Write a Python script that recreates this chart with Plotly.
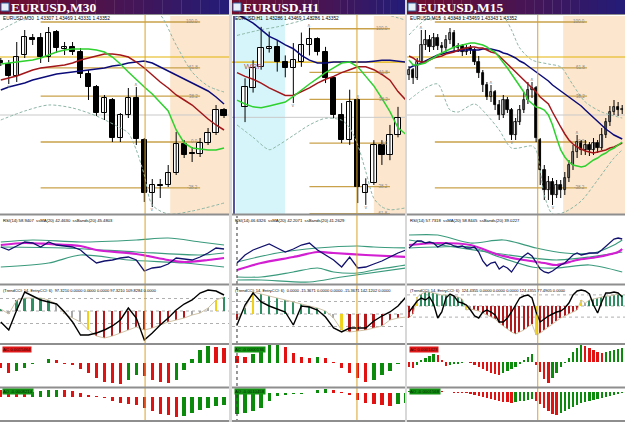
import plotly.graph_objects as go

# ======================= DATA =======================
FIB_LEVELS = [100.0, 61.8, 38.2, 0.0, -38.2, -61.8]
FIB_LABELS = ["100.0", "61.8", "38.2", "0.0", "-38.2", "-61.8"]
FIB_PRICE_0 = 1.4300
FIB_PRICE_100 = 1.4420
HLINE_GOLD = 1.4385
HLINE_BID = 1.4327

# ---------- Panel 1 : EURUSD,M30 ----------
P1_TITLE = "EURUSD,M30"
P1_HEADER = "EURUSD,M30  1.43307 1.43469 1.43331 1.43352"
P1_RSI_LABEL = "RSI(14) 58.9407  ssMA(20) 42.4630  ssBands(20) 45.4803"
P1_CCI_LABEL = "(TrendCCI: 14, EntryCCI: 6)  97.3210 0.0000 0.0000 0.0000 97.3210 109.8284 0.0000"
P1_AC_LABEL = "AC 0.0015464"
P1_AO_LABEL = "AO -0.0008214"
P1_X = list(range(0, 29))
P1_OPEN = [1.4381, 1.4378, 1.4366, 1.4387, 1.4404, 1.4404, 1.4385, 1.4410, 1.4393, 1.4395, 1.4390, 1.4368, 1.4355, 1.4329, 1.4342,
           1.4304, 1.4327, 1.4344, 1.4302, 1.4249, 1.4257, 1.4257, 1.4269, 1.4298, 1.4289, 1.4288, 1.4299, 1.4309, 1.4332]
P1_HIGH = [1.4384, 1.4382, 1.4400, 1.4412, 1.4408, 1.4409, 1.4415, 1.4412, 1.4400, 1.4400, 1.4394, 1.4372, 1.4357, 1.4347, 1.4344,
           1.4329, 1.4354, 1.4355, 1.4304, 1.4263, 1.4263, 1.4277, 1.4310, 1.4302, 1.4295, 1.4304, 1.4314, 1.4337, 1.4334]
P1_LOW = [1.4376, 1.4358, 1.4360, 1.4384, 1.4397, 1.4379, 1.4380, 1.4389, 1.4387, 1.4387, 1.4364, 1.4342, 1.4326, 1.4322, 1.4300,
          1.4300, 1.4324, 1.4297, 1.4240, 1.4235, 1.4244, 1.4255, 1.4267, 1.4284, 1.4280, 1.4285, 1.4297, 1.4307, 1.4324]
P1_CLOSE = [1.4379, 1.4366, 1.4385, 1.4405, 1.4402, 1.4385, 1.4409, 1.4394, 1.4395, 1.4390, 1.4368, 1.4355, 1.4329, 1.4344, 1.4304,
            1.4327, 1.4344, 1.4303, 1.4249, 1.4257, 1.4256, 1.4269, 1.4298, 1.4287, 1.4288, 1.4299, 1.4309, 1.4332, 1.4326]
P1_MA_FAST = [1.4378, 1.4379, 1.4380, 1.4381, 1.4382, 1.4384, 1.4387, 1.4390, 1.4392, 1.4393, 1.4393, 1.4393, 1.4392, 1.4390, 1.4385,
              1.4378, 1.4370, 1.4362, 1.4355, 1.4348, 1.4339, 1.4331, 1.4312, 1.4299, 1.4294, 1.4293, 1.4292, 1.4292, 1.4294]
P1_MA_MID = [1.4362, 1.4364, 1.4366, 1.4369, 1.4372, 1.4374, 1.4375, 1.4376, 1.4377, 1.4379, 1.4382, 1.4384, 1.4386, 1.4388, 1.4388,
             1.4387, 1.4385, 1.4380, 1.4374, 1.4367, 1.4360, 1.4354, 1.4347, 1.4342, 1.4337, 1.4330, 1.4323, 1.4317, 1.4312]
P1_MA_SLOW = [1.4352, 1.4355, 1.4357, 1.4359, 1.4362, 1.4364, 1.4366, 1.4368, 1.4369, 1.4370, 1.4371, 1.4372, 1.4373, 1.4374, 1.4376,
              1.4377, 1.4379, 1.4380, 1.4381, 1.4379, 1.4375, 1.4371, 1.4367, 1.4363, 1.4359, 1.4355, 1.4351, 1.4345, 1.4338]
P1_BB_UP_X = [0, 4, 8, 12, 16, 19, 20, 22, 24, 26, 28]
P1_BB_UP = [1.4412, 1.4427, 1.4430, 1.4427, 1.4429, 1.4429, 1.4427, 1.4397, 1.4370, 1.4356, 1.4350]
P1_BB_LO_X = [0, 3, 6, 9, 12, 15, 16, 17, 18, 19, 21, 24, 28]
P1_BB_LO = [1.4322, 1.4331, 1.4337, 1.4334, 1.4326, 1.4314, 1.4309, 1.4292, 1.4267, 1.4237, 1.4228, 1.4231, 1.4239]
P1_RSI = [52.1, 49.4, 53.0, 56.6, 55.7, 52.1, 56.6, 53.9, 53.0, 52.1, 49.4, 43.1, 37.7, 39.5, 40.4,
          42.2, 43.1, 40.4, 30.5, 33.2, 34.1, 36.8, 42.2, 41.3, 40.4, 43.1, 46.7, 51.2, 50.3]
P1_RSI_MA_X = [0, 3, 6, 10, 12, 17, 21, 23, 26, 28]
P1_RSI_MA = [53.9, 55.7, 54.8, 53.0, 49.4, 45.8, 40.4, 38.6, 40.4, 42.2]
P1_RSI_BU_X = [0, 4, 10, 17, 21, 25, 28]
P1_RSI_BU = [56.6, 58.4, 56.6, 58.4, 60.2, 56.6, 53.9]
P1_RSI_BM_X = [0, 8, 17, 25, 28]
P1_RSI_BM = [52.1, 51.2, 47.6, 44.9, 46.7]
P1_RSI_BL_X = [0, 6, 10, 16, 23, 28]
P1_RSI_BL = [34.1, 37.7, 44.9, 40.4, 37.7, 34.1]
P1_CCI_TREND = [16, -24, 88, 104, 104, 104, 88, 56, -24, -56, -88, -152, -200, -216, -200,
                -176, -152, -128, -152, -136, -112, -88, -72, -56, -32, -16, 24, 88, 112]
P1_CCI_ENTRY = [-88, -152, 8, 152, 120, 88, 72, 56, -8, -88, -192, -192, -176, -152, -120,
                -72, 24, -56, -232, -176, -112, -56, 8, 56, 88, 144, 168, 160, 128]
P1_CCI_STATE = ["U", "N", "U", "U", "U", "U", "U", "N", "N", "N", "N", "E", "D", "D", "D",
                "D", "D", "D", "D", "D", "D", "D", "D", "D", "N", "N", "N", "E", "U"]
P1_AC = [-0.0005, -0.0010, -0.0008, -0.0005, -0.0001, 0.0000, 0.0004, 0.0003, -0.0001, -0.0002, -0.0006, -0.0010, -0.0015, -0.0019, -0.0020,
         -0.0021, -0.0017, -0.0012, -0.0013, -0.0017, -0.0019, -0.0020, -0.0017, -0.0007, 0.0004, 0.0013, 0.0017, 0.0016, 0.0015]
P1_AO = [0.0007, 0.0006, 0.0005, 0.0004, 0.0005, 0.0006, 0.0007, 0.00075, 0.0007, 0.0006, 0.0004, 0.0002, 0.0001, -0.0001, -0.0004,
         -0.0006, -0.0007, -0.0008, -0.0011, -0.0014, -0.0017, -0.0018, -0.0020, -0.0019, -0.0016, -0.0013, -0.0011, -0.0009, -0.0008]
P1_FR_UP = [17]
P1_FR_DN = [1, 19]
P1_FIB_SPAN = [5, 25]
P1_CROSS = 18.1
P1_SESSION_START = 21.25

# ---------- Panel 2 : EURUSD,H1 ----------
P2_TITLE = "EURUSD,H1"
P2_HEADER = "EURUSD,H1  1.43286 1.43469 1.43286 1.43352"
P2_RSI_LABEL = "RSI(14) 46.6326  ssMA(20) 42.2071  ssBands(20) 41.2629"
P2_CCI_LABEL = "(TrendCCI: 14, EntryCCI: 6)  0.0000 -15.3671 0.0000 0.0000 -15.3671 142.1202 0.0000"
P2_AC_LABEL = "AC -0.0000136"
P2_AO_LABEL = "AO -0.0010458"
P2_BARS = list(range(1, 21))
P2_X = list(range(0, 22))
P2_OPEN = [1.4338, 1.4358, 1.4380, 1.4399, 1.4401, 1.4385, 1.4379, 1.4385, 1.4403, 1.4409,
           1.4396, 1.4368, 1.4329, 1.4303, 1.4345, 1.4248, 1.4258, 1.4298, 1.4287, 1.4308]
P2_HIGH = [1.4368, 1.4387, 1.4422, 1.4417, 1.4408, 1.4392, 1.4405, 1.4416, 1.4421, 1.4411,
           1.4401, 1.4370, 1.4342, 1.4356, 1.4347, 1.4263, 1.4303, 1.4303, 1.4319, 1.4338]
P2_LOW = [1.4322, 1.4353, 1.4377, 1.4395, 1.4375, 1.4369, 1.4342, 1.4380, 1.4392, 1.4392,
          1.4363, 1.4326, 1.4300, 1.4298, 1.4237, 1.4235, 1.4256, 1.4277, 1.4282, 1.4306]
P2_CLOSE = [1.4359, 1.4379, 1.4400, 1.4401, 1.4385, 1.4379, 1.4387, 1.4403, 1.4409, 1.4396,
            1.4368, 1.4329, 1.4303, 1.4343, 1.4254, 1.4256, 1.4298, 1.4287, 1.4308, 1.4326]
P2_MA_FAST = [1.4345, 1.4341, 1.4338, 1.4337, 1.4339, 1.4341, 1.4343, 1.4349, 1.4356, 1.4362, 1.4368,
              1.4374, 1.4379, 1.4384, 1.4385, 1.4380, 1.4370, 1.4360, 1.4347, 1.4333, 1.4316, 1.4309]
P2_MA_MID = [1.4374, 1.4370, 1.4367, 1.4363, 1.4358, 1.4354, 1.4350, 1.4350, 1.4354, 1.4358, 1.4363,
             1.4367, 1.4370, 1.4374, 1.4377, 1.4380, 1.4380, 1.4377, 1.4372, 1.4366, 1.4354, 1.4345]
P2_MA_SLOW = [1.4435, 1.4431, 1.4426, 1.4419, 1.4412, 1.4408, 1.4403, 1.4399, 1.4392, 1.4387, 1.4384,
              1.4384, 1.4385, 1.4385, 1.4385, 1.4385, 1.4385, 1.4386, 1.4387, 1.4387, 1.4386, 1.4385]
P2_BB_UP_X = [0, 3, 5, 9, 12, 15, 17, 19, 21]
P2_BB_UP = [1.4413, 1.4419, 1.4422, 1.4431, 1.4440, 1.4445, 1.4440, 1.4434, 1.4429]
P2_BB_LO_X = [0, 2, 4, 5, 7, 9, 11, 13, 14, 15, 16, 17, 18, 19, 21]
P2_BB_LO = [1.4319, 1.4306, 1.4293, 1.4297, 1.4308, 1.4319, 1.4326, 1.4324, 1.4316, 1.4298, 1.4270, 1.4242, 1.4233, 1.4230, 1.4232]
P2_RSI = [37.7, 44.9, 49.4, 52.1, 54.8, 51.2, 47.6, 50.3, 53.9, 55.7, 49.4,
          44.9, 40.4, 34.1, 43.1, 33.2, 34.1, 36.8, 39.5, 43.1, 46.7, 49.4]
P2_RSI_MA_X = [0, 3, 7, 10, 12, 16, 21]
P2_RSI_MA = [31.4, 37.7, 43.1, 47.6, 46.7, 44.9, 43.1]
P2_RSI_BU_X = [0, 5, 10, 15, 17, 21]
P2_RSI_BU = [38.6, 46.7, 51.2, 53.0, 52.1, 51.2]
P2_RSI_BM_X = [0, 3, 7, 10, 12, 15, 17, 21]
P2_RSI_BM = [25.1, 25.1, 29.6, 33.2, 29.6, 28.7, 31.4, 35.9]
P2_RSI_BL_X = [0, 3, 9, 13, 21]
P2_RSI_BL = [22.4, 22.4, 20.6, 25.1, 33.2]
P2_CCI_TREND = [-48, 48, 176, 160, 144, 128, 112, 96, 80, 64, 48,
                24, -32, -128, -144, -136, -128, -112, -96, -48, -32, -24]
P2_CCI_ENTRY = [-88, 72, 168, 96, 64, 40, 16, -88, 64, 56, 32,
                -24, -112, -144, -112, -112, -112, -56, -16, 16, 64, 136]
P2_CCI_STATE = ["D", "U", "E", "U", "U", "U", "U", "U", "U", "U", "U",
                "U", "N", "E", "D", "D", "D", "D", "D", "D", "D", "D"]
P2_AC = [0.0007, 0.0006, 0.0009, 0.0013, 0.0018, 0.0019, 0.0016, 0.0010, 0.0006, 0.0005, 0.0006,
         0.0005, 0.0001, -0.0005, -0.0010, -0.0015, -0.0019, -0.0017, -0.0012, -0.0008, -0.0001, 0.0000]
P2_AO = [-0.0021, -0.0020, -0.0018, -0.0015, -0.0008, -0.0003, -0.0002, -0.0001, -0.00005, 0.0000, 0.0003,
         0.0004, 0.0003, 0.0001, -0.0002, -0.0007, -0.0010, -0.0011, -0.0012, -0.00125, -0.0011, -0.0010]
P2_FR_UP = [9, 15]
P2_FR_DN = [7, 16]
P2_FIB_SPAN = [9, 19]
P2_CROSS = 14.9
P2_SESSION_START = 17.0
P2_ZONE = [-0.12, 5.96]
P2_WRP = (2.0, 1.4380)

# ---------- Panel 3 : EURUSD,M15 ----------
P3_TITLE = "EURUSD,M15"
P3_HEADER = "EURUSD,M15  1.43343 1.43469 1.43343 1.43352"
P3_RSI_LABEL = "RSI(14) 57.7318  ssMA(20) 58.8445  ssBands(20) 39.0227"
P3_CCI_LABEL = "(TrendCCI: 14, EntryCCI: 6)  124.4355 0.0000 0.0000 0.0000 124.4355 77.4905 0.0000"
P3_AC_LABEL = "AC 0.0001423"
P3_AO_LABEL = "AO -0.0001568"
P3_X = list(range(0, 53))
P3_OPEN = [1.4367, 1.4372, 1.4364, 1.4380, 1.4397, 1.4402, 1.4395, 1.4404, 1.4396, 1.4394,
           1.4402, 1.4409, 1.4394, 1.4396, 1.4390, 1.4394, 1.4392, 1.4380, 1.4369, 1.4357,
           1.4345, 1.4350, 1.4337, 1.4327, 1.4342, 1.4332, 1.4307, 1.4320, 1.4332, 1.4342,
           1.4352, 1.4354, 1.4302, 1.4272, 1.4252, 1.4260, 1.4247, 1.4257, 1.4252, 1.4264,
           1.4277, 1.4290, 1.4300, 1.4292, 1.4297, 1.4292, 1.4299, 1.4294, 1.4307, 1.4320,
           1.4330, 1.4335, 1.4332]
P3_HIGH = [1.4376, 1.4374, 1.4384, 1.4412, 1.4412, 1.4407, 1.4409, 1.4408, 1.4400, 1.4407,
           1.4414, 1.4412, 1.4399, 1.4398, 1.4397, 1.4397, 1.4394, 1.4386, 1.4372, 1.4360,
           1.4357, 1.4352, 1.4342, 1.4347, 1.4345, 1.4334, 1.4324, 1.4337, 1.4350, 1.4360,
           1.4360, 1.4356, 1.4304, 1.4277, 1.4266, 1.4264, 1.4262, 1.4262, 1.4270, 1.4282,
           1.4297, 1.4307, 1.4302, 1.4302, 1.4300, 1.4304, 1.4302, 1.4314, 1.4324, 1.4336,
           1.4342, 1.4340, 1.4337]
P3_LOW = [1.4362, 1.4358, 1.4362, 1.4378, 1.4392, 1.4390, 1.4392, 1.4392, 1.4387, 1.4390,
          1.4398, 1.4390, 1.4390, 1.4386, 1.4387, 1.4388, 1.4377, 1.4364, 1.4350, 1.4342,
          1.4340, 1.4332, 1.4322, 1.4324, 1.4329, 1.4302, 1.4302, 1.4317, 1.4329, 1.4338,
          1.4344, 1.4300, 1.4257, 1.4242, 1.4242, 1.4237, 1.4244, 1.4244, 1.4247, 1.4260,
          1.4272, 1.4284, 1.4287, 1.4287, 1.4286, 1.4287, 1.4289, 1.4292, 1.4304, 1.4316,
          1.4327, 1.4326, 1.4328]
P3_CLOSE = [1.4372, 1.4364, 1.4380, 1.4397, 1.4402, 1.4395, 1.4404, 1.4396, 1.4394, 1.4402,
            1.4409, 1.4394, 1.4396, 1.4390, 1.4394, 1.4392, 1.4380, 1.4369, 1.4357, 1.4345,
            1.4350, 1.4337, 1.4327, 1.4342, 1.4332, 1.4307, 1.4320, 1.4332, 1.4342, 1.4352,
            1.4354, 1.4304, 1.4272, 1.4252, 1.4260, 1.4247, 1.4257, 1.4252, 1.4264, 1.4277,
            1.4290, 1.4300, 1.4292, 1.4297, 1.4292, 1.4299, 1.4294, 1.4307, 1.4320, 1.4330,
            1.4335, 1.4332, 1.4333]
P3_MA_FAST = [1.4382, 1.4377, 1.4377, 1.4378, 1.4379, 1.4382, 1.4384, 1.4387, 1.4389, 1.4391,
              1.4393, 1.4395, 1.4396, 1.4397, 1.4398, 1.4399, 1.4399, 1.4398, 1.4397, 1.4395,
              1.4392, 1.4390, 1.4385, 1.4379, 1.4374, 1.4368, 1.4362, 1.4357, 1.4350, 1.4342,
              1.4338, 1.4335, 1.4334, 1.4332, 1.4327, 1.4317, 1.4304, 1.4292, 1.4285, 1.4280,
              1.4277, 1.4276, 1.4275, 1.4276, 1.4279, 1.4282, 1.4284, 1.4287, 1.4289, 1.4292,
              1.4294, 1.4297, 1.4300]
P3_MA_MID = [1.4386, 1.4384, 1.4381, 1.4380, 1.4380, 1.4382, 1.4384, 1.4385, 1.4386, 1.4388,
             1.4389, 1.4390, 1.4392, 1.4393, 1.4394, 1.4395, 1.4395, 1.4394, 1.4394, 1.4392,
             1.4390, 1.4389, 1.4386, 1.4382, 1.4378, 1.4375, 1.4370, 1.4366, 1.4362, 1.4358,
             1.4354, 1.4350, 1.4345, 1.4341, 1.4338, 1.4330, 1.4322, 1.4315, 1.4308, 1.4302,
             1.4298, 1.4295, 1.4293, 1.4291, 1.4290, 1.4289, 1.4290, 1.4291, 1.4292, 1.4294,
             1.4295, 1.4297, 1.4299]
P3_MA_SLOW = [1.4374, 1.4376, 1.4377, 1.4379, 1.4381, 1.4383, 1.4385, 1.4387, 1.4388, 1.4389,
              1.4390, 1.4391, 1.4391, 1.4392, 1.4392, 1.4392, 1.4392, 1.4392, 1.4393, 1.4393,
              1.4393, 1.4392, 1.4391, 1.4389, 1.4388, 1.4386, 1.4384, 1.4381, 1.4379, 1.4376,
              1.4373, 1.4370, 1.4367, 1.4364, 1.4361, 1.4357, 1.4354, 1.4351, 1.4348, 1.4345,
              1.4342, 1.4339, 1.4336, 1.4332, 1.4328, 1.4324, 1.4320, 1.4316, 1.4313, 1.4310,
              1.4307, 1.4305, 1.4303]
P3_BB_UP_X = [0, 4, 8, 13, 16, 23, 25, 27, 30, 34, 37, 40, 43, 47, 52]
P3_BB_UP = [1.4407, 1.4422, 1.4424, 1.4424, 1.4426, 1.4425, 1.4412, 1.4394, 1.4382, 1.4378, 1.4375, 1.4357, 1.4340, 1.4330, 1.4324]
P3_BB_LO_X = [0, 4, 7, 10, 12, 16, 19, 22, 25, 30, 31, 32, 33, 35, 38, 42, 46, 50, 52]
P3_BB_LO = [1.4342, 1.4354, 1.4358, 1.4332, 1.4330, 1.4338, 1.4327, 1.4312, 1.4294, 1.4296, 1.4292, 1.4272, 1.4247,
            1.4228, 1.4230, 1.4241, 1.4262, 1.4284, 1.4292]
P3_RSI = [51.2, 54.8, 57.5, 57.5, 55.7, 56.6, 55.7, 52.1, 53.9, 55.7,
          54.8, 53.0, 52.1, 53.0, 51.2, 51.2, 52.1, 47.6, 39.5, 35.0,
          37.7, 38.6, 32.3, 35.0, 33.2, 29.6, 35.0, 40.4, 44.0, 46.7,
          44.0, 38.6, 32.3, 29.6, 28.7, 30.5, 33.2, 35.9, 37.7, 41.3,
          44.9, 46.7, 44.9, 45.8, 46.7, 46.7, 46.7, 49.4, 53.0, 56.6,
          59.3, 60.2, 59.3]
P3_RSI_MA_X = [0, 7, 15, 22, 28, 33, 36, 41, 46, 51, 52]
P3_RSI_MA = [53.9, 55.7, 53.9, 44.9, 40.4, 37.7, 35.9, 40.4, 43.1, 47.6, 50.3]
P3_RSI_BU_X = [0, 7, 15, 23, 31, 38, 45, 50, 52]
P3_RSI_BU = [62.9, 62.9, 55.7, 58.4, 51.2, 46.7, 46.7, 53.9, 58.4]
P3_RSI_BM_X = [0, 11, 19, 28, 36, 44, 52]
P3_RSI_BM = [58.4, 52.1, 47.6, 43.1, 40.4, 43.1, 47.6]
P3_RSI_BL_X = [0, 7, 15, 22, 30, 36, 44, 52]
P3_RSI_BL = [51.2, 52.1, 52.1, 43.1, 34.1, 33.2, 35.9, 29.6]
P3_CCI_TREND = [-108, -72, 81, 108, 126, 126, 117, 108, 99, 99,
                99, 90, 81, 63, -36, -27, -36, -45, -63, -81,
                -99, -117, -153, -180, -207, -234, -252, -234, -216, -189,
                -162, -261, -243, -216, -189, -162, -135, -108, -90, -72,
                -54, -36, 54, 27, 54, 63, 72, 81, 90, 90,
                99, 108, 99]
P3_CCI_ENTRY = [-54, 0, 45, 72, 54, 81, 18, -108, -54, 72,
                108, 90, 36, 27, 9, -36, -90, -108, -54, -36,
                -54, -81, -144, -144, -108, -54, 9, 72, 90, 99,
                72, -54, -144, -117, -90, -72, -54, -45, -18, 27,
                99, 135, 144, 135, 108, 9, -63, 36, 117, 117,
                126, 117, 81]
P3_CCI_STATE = (["D", "D", "E"] + ["U"] * 11 + ["E", "N"] + ["D"] * 15 + ["E"] + ["D"] * 10
                + ["E", "N"] + ["U"] * 9)
P3_AC = [-0.0005, -0.0006, -0.0003, 0.0002, 0.0004, 0.0006, 0.0008, 0.0007, 0.0002, -0.0004,
         -0.0003, -0.0002, -0.0002, -0.0001, 0.0000, -0.0001, -0.0003, -0.0005, -0.0007, -0.0009,
         -0.0011, -0.0012, -0.0013, -0.0011, -0.0009, -0.0007, -0.0005, -0.0002, 0.0002, 0.0005,
         0.0008, -0.0003, -0.0010, -0.0017, -0.0021, -0.0016, -0.0011, -0.0005, -0.0001, 0.0004,
         0.0010, 0.0014, 0.0017, 0.0016, 0.0014, 0.0012, 0.0010, 0.0009, 0.0010, 0.0011,
         0.0012, 0.0013, 0.0014]
P3_AO = [0.0001, 0.0001, 0.0001, 0.0002, 0.0002, 0.0002, 0.0002, 0.0001, 0.0001, 0.0000,
         0.0000, -0.0001, -0.0001, -0.0001, -0.0001, -0.0002, -0.0003, -0.0004, -0.0005, -0.0006,
         -0.0007, -0.0008, -0.0009, -0.0010, -0.0010, -0.0011, -0.0010, -0.0009, -0.0009, -0.0008,
         -0.0007, -0.0009, -0.0012, -0.0016, -0.0019, -0.0022, -0.0023, -0.0021, -0.0019, -0.0017,
         -0.0015, -0.0013, -0.0011, -0.0010, -0.0009, -0.0008, -0.0007, -0.0006, -0.0005, -0.0004,
         -0.0003, -0.0002, -0.0001]
P3_FR_UP = [3, 20, 30, 41]
P3_FR_DN = [25, 35]
P3_FIB_SPAN = [6.3, 43.4]
P3_CROSS = 31.4
P3_SESSION_START = 37.6

# label box colours as shown (AC / AO)
LABEL_BG = [("#e01a1a", "#129012"), ("#129012", "#129012"), ("#e01a1a", "#129012")]

# ======================= BUILD =======================
PANELS = [
    dict(title=P1_TITLE, header=P1_HEADER, rsi_label=P1_RSI_LABEL, cci_label=P1_CCI_LABEL,
         ac_label=P1_AC_LABEL, ao_label=P1_AO_LABEL, bars=P1_X, x=P1_X,
         o=P1_OPEN, h=P1_HIGH, l=P1_LOW, c=P1_CLOSE, fast=P1_MA_FAST, mid=P1_MA_MID, slow=P1_MA_SLOW,
         bbux=P1_BB_UP_X, bbu=P1_BB_UP, bblx=P1_BB_LO_X, bbl=P1_BB_LO,
         rsi=P1_RSI, rmax=P1_RSI_MA_X, rma=P1_RSI_MA, rbux=P1_RSI_BU_X, rbu=P1_RSI_BU,
         rbmx=P1_RSI_BM_X, rbm=P1_RSI_BM, rblx=P1_RSI_BL_X, rbl=P1_RSI_BL,
         ct=P1_CCI_TREND, ce=P1_CCI_ENTRY, cs=P1_CCI_STATE, ac=P1_AC, ao=P1_AO,
         frup=P1_FR_UP, frdn=P1_FR_DN, fib=P1_FIB_SPAN, cross=P1_CROSS, sess=P1_SESSION_START,
         px0=0, px1=229, xr=[-0.1, 28.625], main=[1.4228, 1.4426], cci=[-256, 192],
         acr=[-0.0023, 0.0018], aor=[-0.0023, 0.0008], bw=0.42, cw=0.22, kw=0.66, cdw=1),
    dict(title=P2_TITLE, header=P2_HEADER, rsi_label=P2_RSI_LABEL, cci_label=P2_CCI_LABEL,
         ac_label=P2_AC_LABEL, ao_label=P2_AO_LABEL, bars=P2_BARS, x=P2_X,
         o=P2_OPEN, h=P2_HIGH, l=P2_LOW, c=P2_CLOSE, fast=P2_MA_FAST, mid=P2_MA_MID, slow=P2_MA_SLOW,
         bbux=P2_BB_UP_X, bbu=P2_BB_UP, bblx=P2_BB_LO_X, bbl=P2_BB_LO,
         rsi=P2_RSI, rmax=P2_RSI_MA_X, rma=P2_RSI_MA, rbux=P2_RSI_BU_X, rbu=P2_RSI_BU,
         rbmx=P2_RSI_BM_X, rbm=P2_RSI_BM, rblx=P2_RSI_BL_X, rbl=P2_RSI_BL,
         ct=P2_CCI_TREND, ce=P2_CCI_ENTRY, cs=P2_CCI_STATE, ac=P2_AC, ao=P2_AO,
         frup=P2_FR_UP, frdn=P2_FR_DN, fib=P2_FIB_SPAN, cross=P2_CROSS, sess=P2_SESSION_START,
         px0=232, px1=405, xr=[-0.62, 20.87], main=[1.42255, 1.44334], cci=[-232, 216],
         acr=[-0.0023, 0.0018], aor=[-0.0027, 0.0004], bw=0.42, cw=0.22, kw=0.66, cdw=1),
    dict(title=P3_TITLE, header=P3_HEADER, rsi_label=P3_RSI_LABEL, cci_label=P3_CCI_LABEL,
         ac_label=P3_AC_LABEL, ao_label=P3_AO_LABEL, bars=P3_X, x=P3_X,
         o=P3_OPEN, h=P3_HIGH, l=P3_LOW, c=P3_CLOSE, fast=P3_MA_FAST, mid=P3_MA_MID, slow=P3_MA_SLOW,
         bbux=P3_BB_UP_X, bbu=P3_BB_UP, bblx=P3_BB_LO_X, bbl=P3_BB_LO,
         rsi=P3_RSI, rmax=P3_RSI_MA_X, rma=P3_RSI_MA, rbux=P3_RSI_BU_X, rbu=P3_RSI_BU,
         rbmx=P3_RSI_BM_X, rbm=P3_RSI_BM, rblx=P3_RSI_BL_X, rbl=P3_RSI_BL,
         ct=P3_CCI_TREND, ce=P3_CCI_ENTRY, cs=P3_CCI_STATE, ac=P3_AC, ao=P3_AO,
         frup=P3_FR_UP, frdn=P3_FR_DN, fib=P3_FIB_SPAN, cross=P3_CROSS, sess=P3_SESSION_START,
         px0=407, px1=625, xr=[-0.49, 52.68], main=[1.4228, 1.4426], cci=[-333, 171],
         acr=[-0.0024, 0.0017], aor=[-0.0028, 0.0003], bw=0.55, cw=0.35, kw=0.62, cdw=0.8),
]

W, H = 625, 422
SUB_PIX = [(16, 214), (216, 283), (287, 343), (345, 386), (389, 420)]
SEPARATORS = [14.5, 214.5, 284.5, 344, 387.5, 421]

C_FAST, C_MID, C_SLOW = "#2ed12e", "#a3161a", "#0b0b7a"
C_BB = "#8db6a6"
C_FIB = "#c9a14a"
C_CROSS = "#d9a22a"
STATE_COL = {"U": "#2f8f62", "D": "#b3181c", "E": "#f0d21c", "N": "#a9a9a9"}
ACG, ACR = "#0b8a0b", "#e01212"
FONT = "Liberation Sans"


def xname(n):
    return "x" if n == 1 else f"x{n}"


def yname(n):
    return "y" if n == 1 else f"y{n}"


def osc_colors(vals):
    cols = []
    for i, v in enumerate(vals):
        if i == 0:
            cols.append(None)
        elif v > vals[i - 1]:
            cols.append(ACG)
        elif v < vals[i - 1]:
            cols.append(ACR)
        else:
            cols.append(cols[-1] or ACG)
    cols[0] = cols[1] if len(cols) > 1 else ACG
    return cols


fig = go.Figure()
layout = dict(width=W, height=H, margin=dict(l=0, r=0, t=0, b=0), paper_bgcolor="white",
              plot_bgcolor="rgba(0,0,0,0)", showlegend=False, bargap=0, barmode="overlay")
shapes, annots = [], []


def add(trace, n):
    trace.update(xaxis=xname(n), yaxis=yname(n), hoverinfo="skip")
    fig.add_trace(trace)


def ptext(x, y, text, size, color="black", family=FONT, bold=False, bg=None):
    annots.append(dict(xref="paper", yref="paper", x=x / W, y=1 - y / H, text=("<b>%s</b>" % text) if bold else text,
                       showarrow=False, xanchor="left", yanchor="middle",
                       font=dict(size=size, color=color, family=family),
                       bgcolor=bg, borderpad=0))


def lines(x, y, n, color, width, dash=None, shape="linear"):
    add(go.Scatter(x=x, y=y, mode="lines", line=dict(color=color, width=width, dash=dash, shape=shape,
                                                    smoothing=0.8 if shape == "spline" else None)), n)


for p, P in enumerate(PANELS):
    base = p * 5
    ranges = [P["main"], [19.7, 80.0], P["cci"], P["acr"], P["aor"]]
    for s, (t, b) in enumerate(SUB_PIX):
        n = base + s + 1
        xk = "xaxis" if n == 1 else f"xaxis{n}"
        yk = "yaxis" if n == 1 else f"yaxis{n}"
        layout[xk] = dict(domain=[P["px0"] / W, P["px1"] / W], range=P["xr"], visible=False,
                          fixedrange=True, anchor=yname(n))
        layout[yk] = dict(domain=[1 - b / H, 1 - t / H], range=ranges[s], visible=False,
                          fixedrange=True, anchor=xname(n))
    nm, nr, nc, na, no = base + 1, base + 2, base + 3, base + 4, base + 5

    # --- background zones in main chart ---
    shapes.append(dict(type="rect", xref=xname(nm), yref=f"{yname(nm)} domain", x0=P["sess"], x1=P["xr"][1] + 1,
                       y0=0, y1=1, fillcolor="#fce6cd", line=dict(width=0), layer="below"))
    if p == 1:
        shapes.append(dict(type="rect", xref=xname(nm), yref=f"{yname(nm)} domain", x0=P2_ZONE[0], x1=P2_ZONE[1],
                           y0=0, y1=1, fillcolor="#d5f5fa", line=dict(width=0), layer="below"))
    shapes.append(dict(type="line", xref=f"{xname(nm)} domain", yref=yname(nm), x0=0, x1=1, y0=HLINE_BID, y1=HLINE_BID,
                       line=dict(color="#c9c9c9", width=1), layer="below"))
    shapes.append(dict(type="line", xref=f"{xname(nm)} domain", yref=yname(nm), x0=0, x1=1, y0=HLINE_GOLD, y1=HLINE_GOLD,
                       line=dict(color="#e3b30a", width=1.2), layer="below"))
    for lv, lab in zip(FIB_LEVELS, FIB_LABELS):
        price = FIB_PRICE_0 + (FIB_PRICE_100 - FIB_PRICE_0) * lv / 100.0
        shapes.append(dict(type="line", xref=xname(nm), yref=yname(nm), x0=P["fib"][0], x1=P["fib"][1],
                           y0=price, y1=price, line=dict(color=C_FIB, width=1.3), layer="below"))
        annots.append(dict(xref=xname(nm), yref=yname(nm), x=P["fib"][1], y=price, text=lab, showarrow=False,
                           xanchor="right", yanchor="middle", font=dict(size=4.5, color="#8a8a8a", family=FONT)))

    # --- candles: wicks + bodies ---
    wx, wy = [], []
    for xi, hi, lo in zip(P["bars"], P["h"], P["l"]):
        wx += [xi, xi, None]
        wy += [lo, hi, None]
    add(go.Scatter(x=wx, y=wy, mode="lines", line=dict(color="black", width=1)), nm)
    body_base = [min(o, c) for o, c in zip(P["o"], P["c"])]
    body_h = [max(abs(c - o), 0.00004) for o, c in zip(P["o"], P["c"])]
    body_col = ["white" if c >= o else "black" for o, c in zip(P["o"], P["c"])]
    add(go.Bar(x=P["bars"], y=body_h, base=body_base, width=P["kw"],
               marker=dict(color=body_col, line=dict(color="black", width=P["cdw"]))), nm)
    lines(P["bbux"], P["bbu"], nm, C_BB, 1, dash="3px,2px", shape="spline")
    lines(P["bblx"], P["bbl"], nm, C_BB, 1, dash="3px,2px", shape="spline")
    lines(P["x"], P["slow"], nm, C_SLOW, 1.5)
    lines(P["x"], P["mid"], nm, C_MID, 1.5)
    lines(P["x"], P["fast"], nm, C_FAST, 1.5)
    add(go.Scatter(x=P["frup"], y=[P["h"][P["bars"].index(i)] + 0.0002 for i in P["frup"]], mode="text",
                   text=["∧"] * len(P["frup"]), textposition="middle center", textfont=dict(size=5, color="#8c8c8c")), nm)
    add(go.Scatter(x=P["frdn"], y=[P["l"][P["bars"].index(i)] - 0.0003 for i in P["frdn"]], mode="text",
                   text=["∨"] * len(P["frdn"]), textposition="middle center", textfont=dict(size=5, color="#8c8c8c")), nm)
    if p == 1:
        annots.append(dict(xref=xname(nm), yref=yname(nm), x=P2_WRP[0], y=P2_WRP[1], text="WRP", showarrow=False,
                           font=dict(size=8, color="#b46262", family=FONT)))
        shapes.append(dict(type="line", xref="paper", yref="paper", x0=234 / W, x1=234 / W, y0=1 - 214 / H, y1=1 - 16 / H,
                           line=dict(color="#1a1a80", width=1.5)))

    # --- RSI ---
    lines(P["rbux"], P["rbu"], nr, "#3a9a7c", 1.2, shape="spline")
    lines(P["rbmx"], P["rbm"], nr, "#3a9a7c", 1.2, shape="spline")
    lines(P["rblx"], P["rbl"], nr, "#3a9a7c", 1.2, shape="spline")
    lines(P["rmax"], P["rma"], nr, "#d21fd2", 2.2, shape="spline")
    lines(P["x"], P["rsi"], nr, "#12126e", 1.3)

    # --- TrendCCI ---
    for lv in (100, 0, -100):
        shapes.append(dict(type="line", xref=f"{xname(nc)} domain", yref=yname(nc), x0=0, x1=1, y0=lv, y1=lv,
                           line=dict(color="#b0b0b0", width=1, dash="dot"), layer="below"))
    add(go.Bar(x=P["x"], y=P["ct"], width=P["cw"], marker=dict(color=[STATE_COL[s] for s in P["cs"]], line=dict(width=0))), nc)
    lines(P["x"], P["ct"], nc, "#cfc2a6", 1)
    lines(P["x"], P["ce"], nc, "black", 1.4)

    # --- AC / AO ---
    add(go.Bar(x=P["x"], y=P["ac"], width=P["bw"], marker=dict(color=osc_colors(P["ac"]), line=dict(width=0))), na)
    add(go.Bar(x=P["x"], y=P["ao"], width=P["bw"], marker=dict(color=osc_colors(P["ao"]), line=dict(width=0))), no)

    shapes.append(dict(type="line", xref=xname(nm), yref="paper", x0=P["cross"], x1=P["cross"], y0=0, y1=1 - 15 / H,
                       line=dict(color=C_CROSS, width=1)))
    if p == 1:
        shapes.append(dict(type="line", xref=xname(nm), yref="paper", x0=0, x1=0, y0=0, y1=1 - 216 / H,
                           line=dict(color="#333333", width=1, dash="dot")))

    # --- frame: title bar gradient ---
    x0, x1 = P["px0"], P["px1"]
    N = 24
    c0, c1 = (112, 12, 44), (36, 28, 118)
    for k in range(N):
        t0 = x0 + (x1 - x0) * k / N
        t1 = x0 + (x1 - x0) * (k + 1) / N
        tt = k / (N - 1)
        col = "rgb(%d,%d,%d)" % tuple(round(a + (b - a) * tt) for a, b in zip(c0, c1))
        shapes.append(dict(type="rect", xref="paper", yref="paper", x0=t0 / W, x1=t1 / W + 0.0005,
                           y0=1 - 14 / H, y1=1, fillcolor=col, line=dict(width=0)))
    shapes.append(dict(type="rect", xref="paper", yref="paper", x0=(x0 + 1) / W, x1=(x0 + 9) / W,
                       y0=1 - 11 / H, y1=1 - 3 / H, fillcolor="#e8eef8", line=dict(color="#3060a0", width=1)))
    ptext(x0 + 10, 7.5, P["title"], 13.5, color="white", family="Liberation Serif", bold=True)
    for sy in SEPARATORS:
        shapes.append(dict(type="line", xref="paper", yref="paper", x0=x0 / W, x1=x1 / W, y0=1 - sy / H, y1=1 - sy / H,
                           line=dict(color="#8e8e8e", width=2 if sy > 15 else 1)))

    # --- labels ---
    ptext(x0 + 2, 19, P["header"], 4.8)
    ptext(x0 + 2, 220.5, P["rsi_label"], 4.2)
    ptext(x0 + 2, 290.5, P["cci_label"], 4.0)
    ptext(x0 + 2, 349, P["ac_label"], 4.3, color="#3a0000" if LABEL_BG[p][0] == "#e01a1a" else "#002a00", bg=LABEL_BG[p][0])
    ptext(x0 + 2, 391.5, P["ao_label"], 4.3, color="#002a00", bg=LABEL_BG[p][1])

for gx0, gx1 in ((229, 232), (405, 407)):
    shapes.append(dict(type="rect", xref="paper", yref="paper", x0=gx0 / W, x1=gx1 / W, y0=0, y1=1,
                       fillcolor="#d8d8d8", line=dict(width=0)))

layout["shapes"] = shapes
layout["annotations"] = annots
fig.update_layout(**layout)
fig.write_html("out.html")
